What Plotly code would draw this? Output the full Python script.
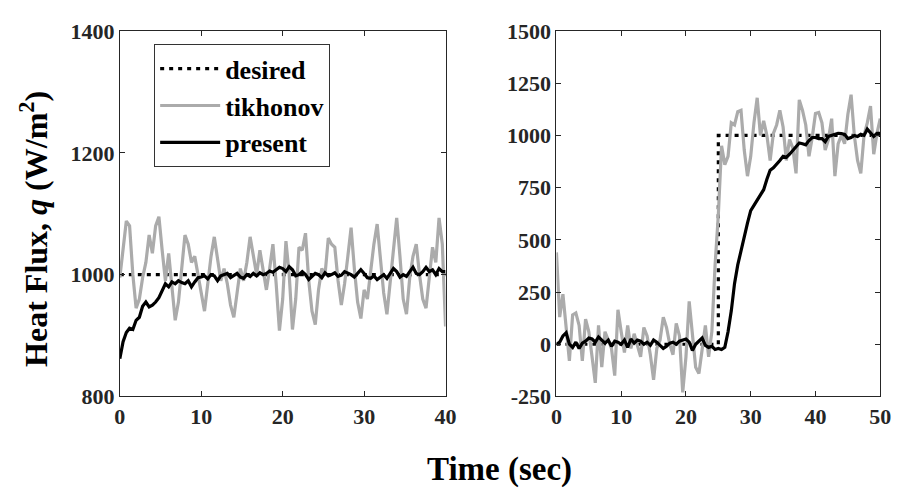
import plotly.graph_objects as go

# ---------------- data ----------------
# left panel: constant flux, t = 0 .. 40 s (0.4 s grid)
t_left = [round(i * 0.4, 1) for i in range(101)]
tik_left = [995, 1040, 1088, 1080, 1000, 945, 960, 995, 1020, 1065,
            1035, 1080, 1095, 1040, 990, 1035, 980, 925, 955, 1010,
            1065, 1050, 1020, 1030, 1000, 965, 940, 985, 1030, 1062,
            1030, 990, 1010, 985, 950, 930, 970, 1010, 990, 1020,
            1062, 1030, 1000, 1040, 1010, 975, 1010, 1050, 985, 908,
            960, 1055, 1000, 910, 960, 1045, 1040, 1068, 990, 940,
            918, 975, 1010, 1000, 1060, 1050, 1045, 990, 950, 985,
            1030, 1077, 1010, 955, 928, 975, 960, 1010, 1050, 1083,
            1030, 970, 935, 990, 1050, 1093, 1030, 960, 935, 995,
            1030, 1050, 1000, 960, 945, 990, 1045, 1020, 1093, 1050,
            915]
pres_left = [862, 890, 905, 912, 910, 925, 930, 948, 955, 947,
             950, 955, 962, 975, 985, 980, 988, 985, 990, 987,
             985, 990, 980, 988, 995, 996, 998, 993, 1000, 998,
             990, 998, 1000, 1002, 995, 998, 1002, 996, 994, 1000,
             997, 1002, 998, 1003, 1000, 1002, 1006, 1004, 1008, 1012,
             1010, 1005, 1013, 1008, 998, 1000, 1005, 1000, 992, 997,
             1002, 1000, 995, 1003, 998, 1000, 1003, 997, 999, 1005,
             1003, 1000, 996, 1002, 1008, 1002, 995, 994, 998, 992,
             996, 1000, 994, 1003, 1010, 1005, 996, 1000, 997, 1005,
             1012, 1002, 1000, 1005, 1012, 1005, 1008, 1000, 1010, 1005,
             1005]
des_left_t = [0, 40]
des_left_v = [1000, 1000]

# right panel: step flux, t = 0 .. 50 s (0.5 s grid)
t_right = [round(i * 0.5, 1) for i in range(101)]
tik_right = [440, 130, 240, 60, -80, 140, 150, 90, -80, 120,
             60, -60, -185, 90, -110, 60, 20, -20, -150, 165,
             60, -40, 90, -20, 50, -10, -60, 80, 40, -50,
             -170, -20, 20, 130, 80, 0, -50, 100, 40, -230,
             -60, 205, 60, -110, -140, -20, 90, -60, 60, 380,
             620, 950, 860, 900, 1060, 1050, 1114, 1120, 930, 805,
             900, 1060, 1180, 1000, 1070, 1000, 880, 1010, 1050, 1120,
             1040, 880, 980, 940, 818, 1170, 1120, 1050, 900, 990,
             1105, 1110, 1060, 930, 980, 1080, 805, 960, 1000, 960,
             1100, 1195, 1000, 880, 818, 1000, 1060, 1140, 910, 1010,
             1080]
pres_right = [0, 10, 40, 55, 0, -15, 10, -20, 5, 15,
              30, 25, 10, 35, 20, 5, 20, -10, 15, 10,
              0, 20, -15, 25, 5, 20, 15, 0, 10, -5,
              20, 10, -5, -20, -10, 5, 10, 0, 15, 20,
              25, 10, -30, 0, 15, 30, -5, -15, -10, -25,
              -20, -25, -15, 60, 160, 290, 380, 450, 510, 580,
              640, 665, 690, 710, 740, 790, 833, 845, 860, 880,
              900, 895, 910, 930, 950, 964, 960, 955, 975, 990,
              990, 985, 985, 970, 995, 1000, 1005, 1010, 1009, 1005,
              985, 990, 1000, 995, 1005, 1000, 1030, 1015, 995, 1010,
              1010]
des_right_t = [0, 25, 25, 50]
des_right_v = [0, 0, 1000, 1000]

left_yticks = [800, 1000, 1200, 1400]
left_xticks = [0, 10, 20, 30, 40]
right_yticks = [-250, 0, 250, 500, 750, 1000, 1250, 1500]
right_xticks = [0, 10, 20, 30, 40, 50]

# ---------------- styling ----------------
FONT = "Liberation Serif"
W, H = 903, 493
GRAY = "#ababab"
DOT = "4px,5px"


def bold(vals):
    return ["<b>%s</b>" % v for v in vals]


fig = go.Figure()
lw = 3.2
fig.add_trace(go.Scatter(x=des_left_t, y=des_left_v, mode="lines", name="<b>desired</b>",
                         line=dict(color="black", width=lw, dash=DOT),
                         xaxis="x", yaxis="y"))
fig.add_trace(go.Scatter(x=t_left, y=tik_left, mode="lines", name="<b>tikhonov</b>",
                         line=dict(color=GRAY, width=lw), xaxis="x", yaxis="y"))
fig.add_trace(go.Scatter(x=t_left, y=pres_left, mode="lines", name="<b>present</b>",
                         line=dict(color="black", width=lw), xaxis="x", yaxis="y"))
fig.add_trace(go.Scatter(x=des_right_t, y=des_right_v, mode="lines", showlegend=False,
                         line=dict(color="black", width=lw, dash=DOT),
                         xaxis="x2", yaxis="y2"))
fig.add_trace(go.Scatter(x=t_right, y=tik_right, mode="lines", showlegend=False,
                         line=dict(color=GRAY, width=lw), xaxis="x2", yaxis="y2"))
fig.add_trace(go.Scatter(x=t_right, y=pres_right, mode="lines", showlegend=False,
                         line=dict(color="black", width=lw), xaxis="x2", yaxis="y2"))

axis_common = dict(showline=True, linecolor="#262626", linewidth=1, mirror="allticks",
                   ticks="inside", ticklen=5, tickcolor="#262626", showgrid=False,
                   zeroline=False,
                   tickfont=dict(family=FONT, size=22, color="#262626"))

ytop = 1 - 20 / H
ybot = 1 - 405 / H

fig.update_layout(
    width=W, height=H,
    margin=dict(l=0, r=0, t=0, b=0),
    paper_bgcolor="white", plot_bgcolor="white",
    xaxis=dict(domain=[116 / W, 448 / W], range=[0, 40], tickvals=left_xticks,
               ticktext=bold(left_xticks), anchor="y", **axis_common),
    yaxis=dict(domain=[ybot, ytop], range=[800, 1400], tickvals=left_yticks,
               ticktext=bold(left_yticks), anchor="x", **axis_common),
    xaxis2=dict(domain=[561 / W, 891 / W], range=[0, 50], tickvals=right_xticks,
                ticktext=bold(right_xticks), anchor="y2", **axis_common),
    yaxis2=dict(domain=[ybot, ytop], range=[-250, 1500], tickvals=right_yticks,
                ticktext=bold(right_yticks), anchor="x2", **axis_common),
    legend=dict(x=151 / W, y=1 - 34 / H, xanchor="left", yanchor="top",
                bgcolor="white", bordercolor="#333333", borderwidth=1,
                font=dict(family=FONT, size=26, color="black"),
                tracegroupgap=0, itemwidth=60),
    showlegend=True,
)

fig.add_annotation(x=29 / W, y=1 - 228 / H, xref="paper", yref="paper",
                   xanchor="center", yanchor="middle",
                   text="<b>Heat Flux, <i>q</i> (W/m<sup>2</sup>)</b>", textangle=-90,
                   showarrow=False, font=dict(family=FONT, size=32, color="black"))
fig.add_annotation(x=503 / W, y=1 - 482 / H, xref="paper", yref="paper",
                   xanchor="center", yanchor="middle",
                   text="<b>Time (sec)</b>", showarrow=False,
                   font=dict(family=FONT, size=33, color="black"))

fig.write_html("out.html")
